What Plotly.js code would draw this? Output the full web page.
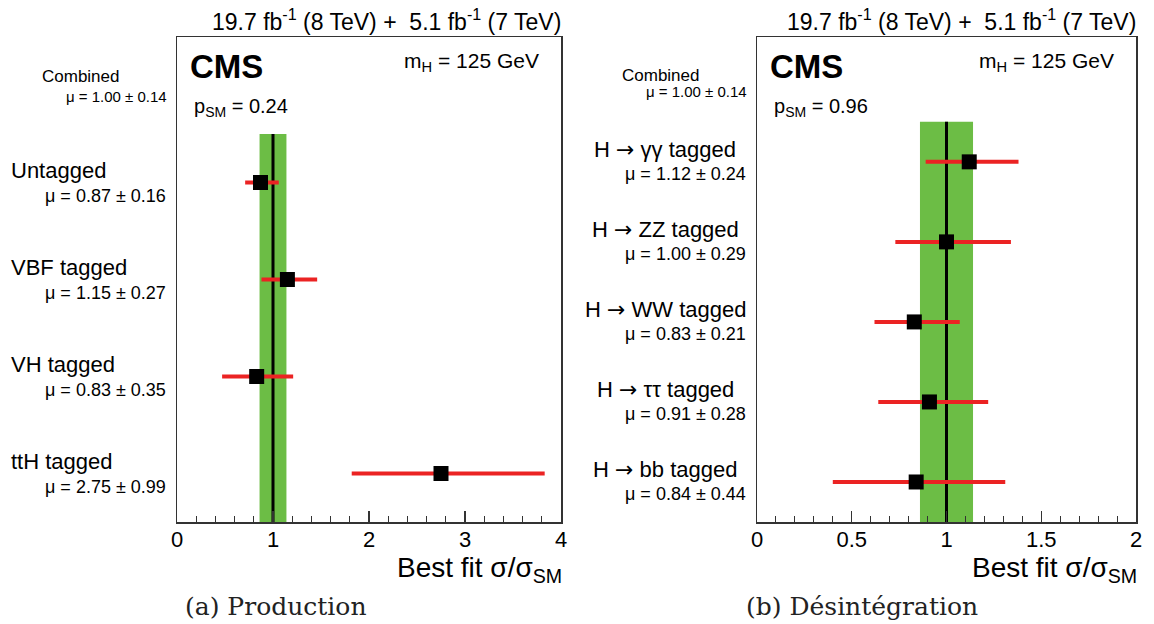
<!DOCTYPE html>
<html>
<head>
<meta charset="utf-8">
<script src="https://cdn.plot.ly/plotly-3.0.1.min.js"></script>
<style>html,body{margin:0;padding:0;background:#fff;}#chart{width:1154px;height:624px;}</style>
</head>
<body>
<div id="chart"></div>
<script>
// ---- Data: panel (a) Production ----
const prodCategories = ["Untagged", "VBF tagged", "VH tagged", "ttH tagged"];
const prodMu = [0.87, 1.15, 0.83, 2.75];
const prodErrLo = [0.16, 0.27, 0.36, 0.93];
const prodErrHi = [0.19, 0.31, 0.38, 1.08];
const prodErrLabel = ["0.16", "0.27", "0.35", "0.99"];
const prodPvalue = "0.24";

// ---- Data: panel (b) Decay ----
const ARROW = "<span style='font-family:DejaVu Sans'>\u2192</span>";
const decayCategories = ["H " + ARROW + " \u03b3\u03b3 tagged", "H " + ARROW + " ZZ tagged", "H " + ARROW + " WW tagged", "H " + ARROW + " \u03c4\u03c4 tagged", "H " + ARROW + " bb tagged"];
const decayMu = [1.12, 1.00, 0.83, 0.91, 0.84];
const decayErrLo = [0.23, 0.27, 0.21, 0.27, 0.44];
const decayErrHi = [0.26, 0.34, 0.24, 0.31, 0.47];
const decayErrLabel = ["0.24", "0.29", "0.21", "0.28", "0.44"];
const decayPvalue = "0.96";

// ---- Combined ----
const combinedMu = 1.00;
const combinedErr = 0.14;
const combinedLabel = "1.00";
const combinedErrLabel = "0.14";

const xTicksA = [0, 1, 2, 3, 4];
const xTicksB = [0, 0.5, 1, 1.5, 2];
const lumiText = "19.7 fb<sup>-1</sup> (8 TeV) +  5.1 fb<sup>-1</sup> (7 TeV)";
const captions = ["(a) Production", "(b) D\u00e9sint\u00e9gration"];

// ---- Layout helpers ----
const W = 1154, H = 624;
const px = x => x / W;
const py = y => 1 - y / H;
const SANS = "Liberation Sans, Arial, sans-serif";
const SERIF = "DejaVu Serif, Liberation Serif, serif";
const GREEN = "rgb(108,189,69)";
const RED = "rgb(235,35,35)";

function rowsOf(n) { const r = []; for (let i = 0; i < n; i++) r.push(n - 1 - i); return r; }

const prodY = rowsOf(prodCategories.length);
const decayY = rowsOf(decayCategories.length);

const traces = [
  {
    x: prodMu, y: prodY, xaxis: "x", yaxis: "y", type: "scatter", mode: "markers",
    marker: {symbol: "square", size: 15, color: "black"},
    error_x: {type: "data", symmetric: false, array: prodErrHi, arrayminus: prodErrLo, color: RED, thickness: 4, width: 0},
    hoverinfo: "x", showlegend: false
  },
  {
    x: decayMu, y: decayY, xaxis: "x2", yaxis: "y2", type: "scatter", mode: "markers",
    marker: {symbol: "square", size: 15, color: "black"},
    error_x: {type: "data", symmetric: false, array: decayErrHi, arrayminus: decayErrLo, color: RED, thickness: 4, width: 0},
    hoverinfo: "x", showlegend: false
  }
];

const yDom = [py(522), py(37)];
const xAxisCommon = {
  showline: true, linecolor: "#333", linewidth: 1.5, mirror: true,
  showgrid: false, zeroline: false, ticks: "inside", ticklen: 11, tickwidth: 1.2, tickcolor: "#333",
  tickfont: {family: SANS, size: 22, color: "black"}, ticklabelstandoff: -3, fixedrange: true
};
const yAxisCommon = {
  showline: true, linecolor: "#333", linewidth: 1.5, mirror: true,
  showgrid: false, zeroline: false, showticklabels: false, ticks: "", fixedrange: true
};

const shapes = [];
// Combined band and SM line
function addBand(xref, yref, topRow) {
  shapes.push({type: "rect", xref: xref, yref: yref, x0: combinedMu - combinedErr, x1: combinedMu + combinedErr,
    y0: -0.5, y1: topRow, fillcolor: GREEN, line: {width: 0}, layer: "below"});
  shapes.push({type: "line", xref: xref, yref: yref, x0: combinedMu, x1: combinedMu,
    y0: -0.5, y1: topRow, line: {color: "black", width: 3}, layer: "below"});
}
addBand("x", "y", prodCategories.length - 0.5);
addBand("x2", "y2", decayCategories.length - 0.5);

const annotations = [];
function ann(o) {
  annotations.push(Object.assign({showarrow: false, xref: "paper", yref: "paper", font: {family: SANS, size: 20, color: "black"}}, o));
}

function panelTexts(frameL, frameR, pval) {
  ann({text: lumiText, x: px(frameR + 2), y: py(20), xanchor: "right", yanchor: "middle", font: {family: SANS, size: 23, color: "black"}});
  ann({text: "<b>CMS</b>", x: px(frameL + 11), y: py(67), xanchor: "left", yanchor: "middle", font: {family: SANS, size: 33, color: "black"}});
  ann({text: "m<sub>H</sub> = 125 GeV", x: px(frameR - 20), y: py(62), xanchor: "right", yanchor: "middle", font: {family: SANS, size: 21, color: "black"}});
  ann({text: "p<sub>SM</sub> = " + pval, x: px(frameL + 15), y: py(107), xanchor: "left", yanchor: "middle", font: {family: SANS, size: 20, color: "black"}});
  ann({text: "Best fit \u03c3/\u03c3<sub>SM</sub>", x: px(frameR + 3), y: py(569), xanchor: "right", yanchor: "middle", font: {family: SANS, size: 28, color: "black"}});
}

// Panel A
panelTexts(177, 561, prodPvalue);
ann({text: "Combined", x: px(40), y: py(76), xanchor: "left", yanchor: "middle", font: {family: SANS, size: 17, color: "black"}});
ann({text: "\u03bc = " + combinedLabel + " \u00b1 " + combinedErrLabel, x: px(169), y: py(96), xanchor: "right", yanchor: "middle", font: {family: SANS, size: 15, color: "black"}});
prodCategories.forEach((c, i) => {
  ann({text: c, x: px(9), y: prodY[i], yref: "y", yshift: 12, xanchor: "left", yanchor: "middle", font: {family: SANS, size: 22, color: "black"}});
  ann({text: "\u03bc = " + prodMu[i].toFixed(2) + " \u00b1 " + prodErrLabel[i], x: px(168), y: prodY[i], yref: "y", yshift: -13, xanchor: "right", yanchor: "middle", font: {family: SANS, size: 18, color: "black"}});
});
ann({text: captions[0], x: px(275), y: py(606), xanchor: "center", yanchor: "middle", font: {family: SERIF, size: 25, color: "#222"}});

// Panel B
panelTexts(757, 1136, decayPvalue);
ann({text: "Combined", x: px(620), y: py(75), xanchor: "left", yanchor: "middle", font: {family: SANS, size: 17, color: "black"}});
ann({text: "\u03bc = " + combinedLabel + " \u00b1 " + combinedErrLabel, x: px(749), y: py(91), xanchor: "right", yanchor: "middle", font: {family: SANS, size: 15, color: "black"}});
decayCategories.forEach((c, i) => {
  ann({text: c, x: px(665), y: decayY[i], yref: "y2", yshift: 12, xanchor: "center", yanchor: "middle", font: {family: SANS, size: 22, color: "black"}});
  ann({text: "\u03bc = " + decayMu[i].toFixed(2) + " \u00b1 " + decayErrLabel[i], x: px(748), y: decayY[i], yref: "y2", yshift: -12, xanchor: "right", yanchor: "middle", font: {family: SANS, size: 18, color: "black"}});
});
ann({text: captions[1], x: px(862), y: py(606), xanchor: "center", yanchor: "middle", font: {family: SERIF, size: 25, color: "#222"}});

const layout = {
  width: W, height: H,
  margin: {l: 0, r: 0, t: 0, b: 0},
  paper_bgcolor: "white", plot_bgcolor: "white",
  showlegend: false,
  xaxis: Object.assign({}, xAxisCommon, {domain: [px(177), px(561)], range: [0, 4], tickvals: xTicksA, ticktext: xTicksA.map(String),
    minor: {ticks: "inside", ticklen: 6, dtick: 0.2, tickcolor: "#333", tickwidth: 1}, anchor: "y"}),
  yaxis: Object.assign({}, yAxisCommon, {domain: yDom, range: [-0.5, 4.5], anchor: "x"}),
  xaxis2: Object.assign({}, xAxisCommon, {domain: [px(757), px(1136)], range: [0, 2], tickvals: xTicksB, ticktext: xTicksB.map(String),
    minor: {ticks: "inside", ticklen: 6, dtick: 0.1, tickcolor: "#333", tickwidth: 1}, anchor: "y2"}),
  yaxis2: Object.assign({}, yAxisCommon, {domain: yDom, range: [-0.5, 5.56], anchor: "x2"}),
  shapes: shapes,
  annotations: annotations
};

Plotly.newPlot("chart", traces, layout, {staticPlot: true, displayModeBar: false});
</script>
</body>
</html>
